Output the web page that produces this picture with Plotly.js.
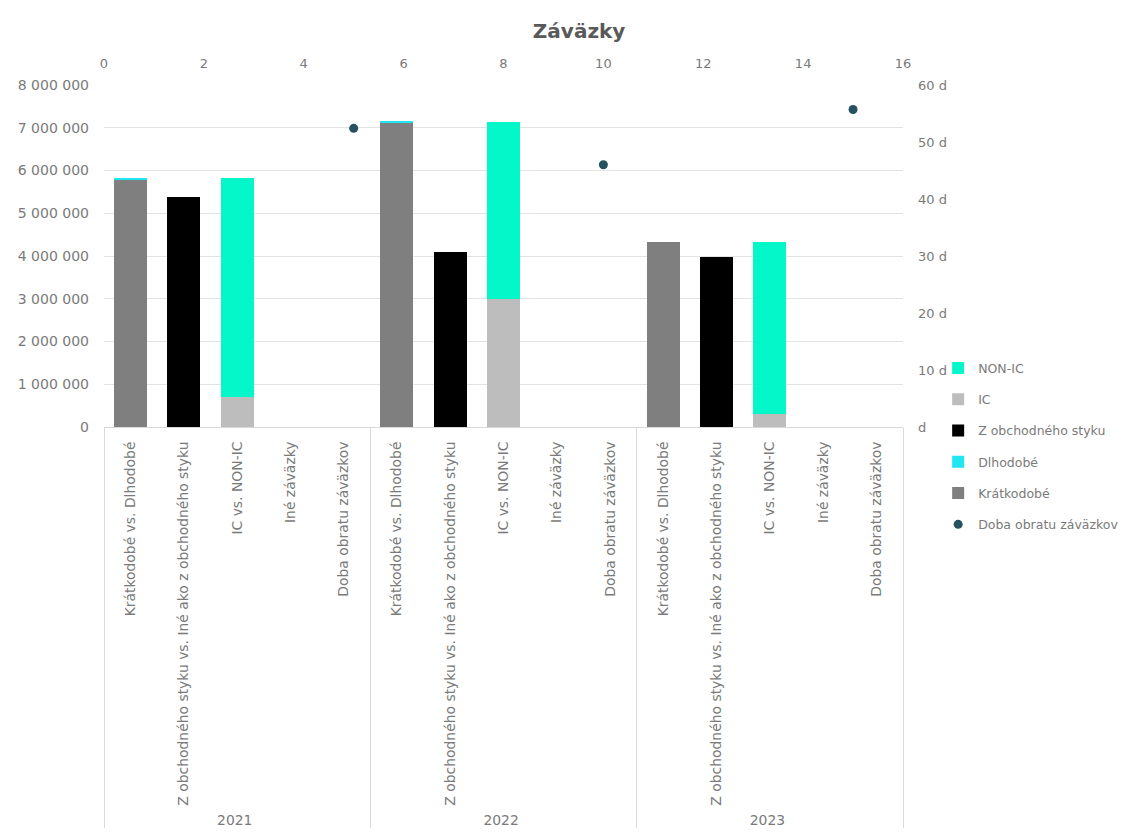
<!DOCTYPE html>
<html>
<head>
<meta charset="utf-8">
<script src="https://cdn.plot.ly/plotly-3.0.1.min.js"></script>
<style>html,body{margin:0;padding:0;background:#fff;}#chart{width:1140px;height:833px;}</style>
</head>
<body>
<div id="chart"></div>
<script>
const years = ['2021', '2022', '2023'];
const categories = [
  'Krátkodobé vs. Dlhodobé',
  'Z obchodného styku vs. Iné ako z obchodného styku',
  'IC vs. NON-IC',
  'Iné záväzky',
  'Doba obratu záväzkov'
];
const kratkodobe = [5780000, 7100000, 4320000];
const dlhodobe = [40000, 50000, 0];
const zObchodnehoStyku = [5390000, 4100000, 3980000];
const ic = [710000, 2990000, 300000];
const nonIc = [5120000, 4150000, 4020000];
const dobaObratu = [52.4, 46.0, 55.7];
const dobaObratuX = [5, 10, 15];
const dayTickVals = [0, 10, 20, 30, 40, 50, 60];
const dayTickText = ['d', '10 d', '20 d', '30 d', '40 d', '50 d', '60 d'];

const xYears = years.flatMap(y => categories.map(() => y));
const xCats = years.flatMap(() => categories);
function atCategory(vals, ci) {
  const out = xCats.map(() => null);
  vals.forEach((v, yi) => { out[yi * categories.length + ci] = v; });
  return out;
}

const FONT = 'DejaVu Sans';
const TXT = '#7a7a7a';

const traces = [
  {type: 'bar', name: 'Krátkodobé', x: [xYears, xCats], y: atCategory(kratkodobe, 0),
   marker: {color: '#7f7f7f'}, legendrank: 5, legendgroup: 'g5'},
  {type: 'bar', name: 'Dlhodobé', x: [xYears, xCats], y: atCategory(dlhodobe, 0),
   marker: {color: '#1fe6f0'}, legendrank: 4, legendgroup: 'g4'},
  {type: 'bar', name: 'Z obchodného styku', x: [xYears, xCats], y: atCategory(zObchodnehoStyku, 1),
   marker: {color: '#000000'}, legendrank: 3, legendgroup: 'g3'},
  {type: 'bar', name: 'IC', x: [xYears, xCats], y: atCategory(ic, 2),
   marker: {color: '#bdbdbd'}, legendrank: 2, legendgroup: 'g2'},
  {type: 'bar', name: 'NON-IC', x: [xYears, xCats], y: atCategory(nonIc, 2),
   marker: {color: '#03f7c9'}, legendrank: 1, legendgroup: 'g1'},
  {type: 'scatter', mode: 'markers', name: 'Doba obratu záväzkov', x: dobaObratuX, y: dobaObratu,
   xaxis: 'x2', yaxis: 'y2', marker: {color: '#24535f', size: 9},
   legendrank: 6, legendgroup: 'g6'}
];

const layout = {
  width: 1140, height: 833,
  paper_bgcolor: '#ffffff', plot_bgcolor: '#ffffff',
  font: {family: FONT, size: 12, color: TXT},
  separators: ', ',
  barmode: 'stack',
  bargap: 0.38,
  margin: {l: 104, r: 237, t: 85, b: 406, pad: 0},
  title: {text: 'Záväzky', x: 0.508, xref: 'container', xanchor: 'center',
          y: 0.963, yref: 'container', yanchor: 'middle',
          font: {family: FONT, size: 20, color: '#595959', weight: 'bold'}},
  xaxis: {
    type: 'multicategory', automargin: false,
    tickangle: -90, tickfont: {size: 13.9, color: TXT},
    showline: true, linecolor: '#d9d9d9', linewidth: 1,
    showgrid: false, ticks: '', ticklabelstandoff: 8,
    showdividers: true, dividercolor: '#d9d9d9', dividerwidth: 1
  },
  yaxis: {
    range: [0, 8000000], dtick: 1000000, tickformat: ',d',
    showgrid: true, gridcolor: '#e3e3e3', gridwidth: 1,
    zeroline: false, showline: false, ticks: '', automargin: false,
    ticklabelstandoff: 14, tickfont: {size: 14, color: TXT}
  },
  xaxis2: {
    overlaying: 'x', side: 'top', anchor: 'y', range: [0, 16], dtick: 2,
    showgrid: false, zeroline: false, showline: false, ticks: '', automargin: false,
    ticklabelstandoff: 13, tickfont: {size: 13, color: TXT}
  },
  yaxis2: {
    overlaying: 'y', side: 'right', anchor: 'x', range: [0, 60],
    tickvals: dayTickVals, ticktext: dayTickText,
    showgrid: false, zeroline: false, showline: false, ticks: '', automargin: false,
    ticklabelstandoff: 14, tickfont: {size: 13, color: TXT}
  },
  showlegend: true,
  legend: {
    x: 1.044, xanchor: 'left', y: 0.215, yanchor: 'top',
    traceorder: 'grouped', tracegroupgap: 12,
    font: {size: 12.5, color: TXT}, itemwidth: 30,
    bgcolor: 'rgba(0,0,0,0)'
  }
};

Plotly.newPlot('chart', traces, layout, {displayModeBar: false, staticPlot: true});
</script>
</body>
</html>
